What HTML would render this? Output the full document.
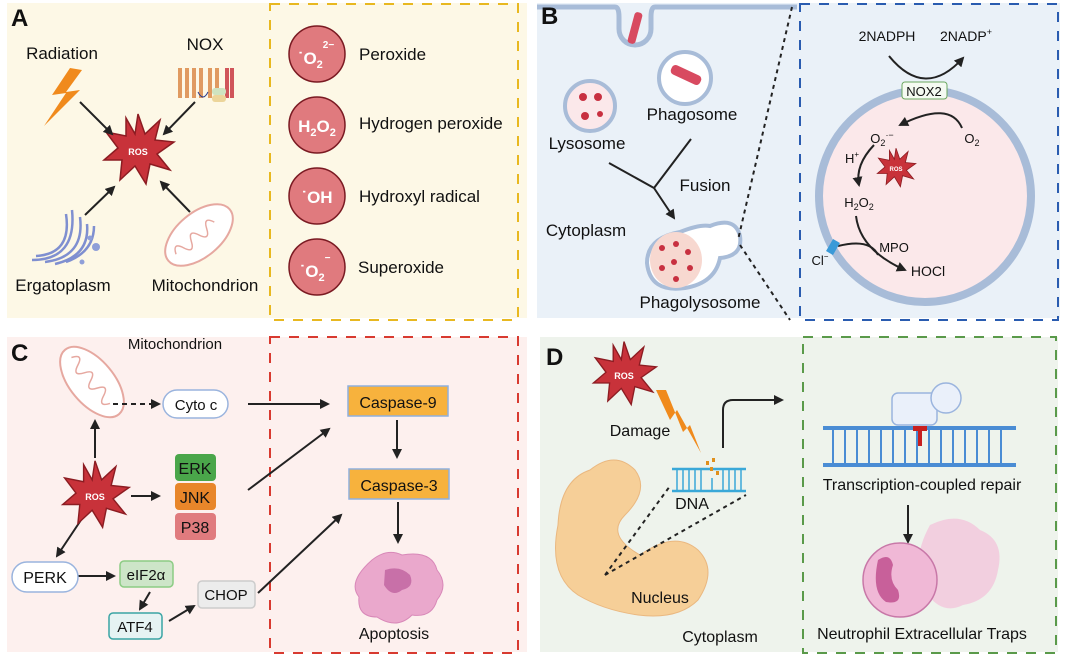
<!DOCTYPE html>
<html><head><meta charset="utf-8"><style>
body{margin:0;background:#fff}
svg{display:block;font-family:"Liberation Sans",sans-serif}
</style></head><body>
<svg width="1065" height="656" viewBox="0 0 1065 656" xmlns="http://www.w3.org/2000/svg">
<defs>
<marker id="ah" viewBox="0 0 10 10" refX="8" refY="5" markerWidth="5" markerHeight="5" orient="auto"><path d="M0,0L10,5L0,10z" fill="#222"/></marker>
<g id="star"><polygon points="0,-36 7,-16 22,-30 17,-10 36,-8 19,4 32,20 12,14 8,34 -3,16 -18,30 -16,10 -34,10 -20,-2 -32,-18 -12,-14 -12,-32 -3,-16" fill="#c8323a" stroke="#8c1c22" stroke-width="1.5"/></g>
</defs>
<rect x="7" y="3" width="520" height="315" fill="#fdf8e6"/>
<rect x="537" y="3" width="523" height="315" fill="#eaf1f8"/>
<rect x="7" y="337" width="520" height="315" fill="#fdf0ee"/>
<rect x="540" y="337" width="518" height="315" fill="#eef3ec"/>
<rect x="270" y="4" width="248" height="316" fill="none" stroke="#e8b820" stroke-width="2" stroke-dasharray="10,9"/>
<rect x="800" y="4" width="258" height="316" fill="none" stroke="#2a5cb0" stroke-width="2" stroke-dasharray="10,9"/>
<rect x="270" y="337" width="248" height="316" fill="none" stroke="#d83a30" stroke-width="2" stroke-dasharray="10,9"/>
<rect x="803" y="337" width="253" height="316" fill="none" stroke="#5a9a4a" stroke-width="2" stroke-dasharray="10,9"/>

<!-- PANEL A -->
<text x="11" y="26" font-size="24" font-weight="bold" fill="#111">A</text>
<text x="62" y="59" font-size="17" text-anchor="middle" fill="#111">Radiation</text>
<polygon points="70,68 52,95 66,93 44,126 80,90 66,92 82,70" fill="#f08a1c"/>
<text x="205" y="50" font-size="17" text-anchor="middle" fill="#111">NOX</text>
<g fill="none" stroke-width="4">
<path d="M180,98V68M187,98V68M194,98V68M201,98V68M210,98V68M217,98V68" stroke="#e09a60"/>
<path d="M227,98V68M232,98V68" stroke="#d0555a"/>
</g>
<rect x="212" y="88" width="14" height="7" rx="3" fill="#cfe3c0"/><rect x="212" y="95" width="14" height="7" rx="3" fill="#ecd59a"/>
<path d="M198,92q5,10 10,0" stroke="#2a3a8a" fill="none"/>
<use href="#star" transform="translate(138,150) scale(1)"/>
<text x="138" y="155" font-size="9" font-weight="bold" fill="#fff" text-anchor="middle">ROS</text>
<g stroke="#222" stroke-width="2" marker-end="url(#ah)">
<line x1="80" y1="102" x2="112" y2="134"/><line x1="195" y1="102" x2="164" y2="134"/>
<line x1="85" y1="215" x2="114" y2="187"/><line x1="190" y1="212" x2="161" y2="182"/>
</g>
<g fill="none" stroke="#7f8fd0" stroke-width="2.5">
<path d="M32,260q45,0 40,-50"/><path d="M36,256q36,-2 30,-42"/><path d="M45,262q40,-5 35,-45"/><path d="M55,264q35,-8 32,-40"/><path d="M66,262q28,-10 28,-36"/>
</g>
<circle cx="96" cy="247" r="4" fill="#8f9fd8"/><circle cx="90" cy="238" r="2.5" fill="#8f9fd8"/><circle cx="82" cy="262" r="2.5" fill="#8f9fd8"/>
<g transform="translate(199,235) rotate(-40)"><ellipse rx="40" ry="22" fill="#fff" stroke="#e6a8a0" stroke-width="2"/><path d="M-30,0q5,-12 10,0t10,0t10,0t10,0t10,0" fill="none" stroke="#e6a8a0" stroke-width="1.5"/></g>
<text x="63" y="291" font-size="17" text-anchor="middle" fill="#111">Ergatoplasm</text>
<text x="205" y="291" font-size="17" text-anchor="middle" fill="#111">Mitochondrion</text>
<g fill="#e07a7e" stroke="#7a1a22" stroke-width="1.5">
<circle cx="317" cy="54" r="28"/><circle cx="317" cy="125" r="28"/><circle cx="317" cy="196" r="28"/><circle cx="317" cy="267" r="28"/>
</g>
<g fill="#fff" font-weight="bold" text-anchor="middle">
<text x="316" y="64" font-size="17">˙O<tspan font-size="11" dy="4">2</tspan><tspan font-size="10" dy="-20">2−</tspan></text>
<text x="317" y="132" font-size="17">H<tspan font-size="11" dy="4">2</tspan><tspan dy="-4">O</tspan><tspan font-size="11" dy="4">2</tspan></text>
<text x="317" y="203" font-size="17">˙OH</text>
<text x="315" y="277" font-size="17">˙O<tspan font-size="11" dy="4">2</tspan><tspan font-size="10" dy="-20">−</tspan></text>
</g>
<g font-size="17" fill="#111">
<text x="359" y="60">Peroxide</text><text x="359" y="129">Hydrogen peroxide</text><text x="359" y="202">Hydroxyl radical</text><text x="358" y="273">Superoxide</text>
</g>

<!-- PANEL B -->
<path d="M537,7H615q4,0 4,10v12a16,16 0 0 0 32,0v-12q0,-10 4,-10H797" fill="none" stroke="#a8bcd8" stroke-width="5"/>
<text x="541" y="24" font-size="24" font-weight="bold" fill="#111">B</text>
<rect x="631" y="12" width="8" height="32" rx="3" fill="#d84a60" transform="rotate(15 635 28)"/>
<circle cx="685" cy="78" r="26" fill="#fff" stroke="#a8bcd8" stroke-width="4"/>
<rect x="670" y="70" width="32" height="10" rx="4" fill="#d84a60" transform="rotate(25 686 75)"/>
<circle cx="590" cy="106" r="25" fill="#fbe8ea" stroke="#a8bcd8" stroke-width="4"/>
<g fill="#c83040"><circle cx="583" cy="97" r="4"/><circle cx="598" cy="97" r="4"/><circle cx="585" cy="116" r="4"/><circle cx="600" cy="114" r="3"/></g>
<text x="692" y="120" font-size="17" text-anchor="middle" fill="#111">Phagosome</text>
<text x="587" y="149" font-size="17" text-anchor="middle" fill="#111">Lysosome</text>
<path d="M691,139L654,188M609,163L654,188" stroke="#222" stroke-width="2" fill="none"/>
<line x1="654" y1="188" x2="674" y2="218" stroke="#222" stroke-width="2" marker-end="url(#ah)"/>
<text x="705" y="191" font-size="17" text-anchor="middle" fill="#111">Fusion</text>
<text x="586" y="236" font-size="17" text-anchor="middle" fill="#111">Cytoplasm</text>
<path d="M680,232q20,-8 30,-6q25,-10 30,10q3,20 -20,22q-5,25 -35,30q-35,5 -38,-25q0,-25 33,-31z" fill="#fff" stroke="#a8bcd8" stroke-width="4"/>
<ellipse cx="676" cy="260" rx="26" ry="28" fill="#f7d8d0"/>
<g fill="#c83040"><circle cx="662" cy="248" r="3"/><circle cx="676" cy="244" r="3"/><circle cx="688" cy="252" r="3"/><circle cx="674" cy="262" r="3"/><circle cx="662" cy="268" r="3"/><circle cx="690" cy="268" r="3"/><circle cx="676" cy="279" r="3"/></g>
<text x="700" y="308" font-size="17" text-anchor="middle" fill="#111">Phagolysosome</text>
<path d="M792,7L738,240M740,245L790,320" stroke="#222" stroke-width="2" stroke-dasharray="4,4" fill="none"/>
<text x="887" y="41" font-size="14" text-anchor="middle" fill="#111">2NADPH</text>
<text x="966" y="41" font-size="14" text-anchor="middle" fill="#111">2NADP<tspan font-size="9" dy="-6">+</tspan></text>
<path d="M889,56Q925,100 963,58" fill="none" stroke="#222" stroke-width="2" marker-end="url(#ah)"/>
<circle cx="925" cy="196" r="106" fill="#fbe8ea" stroke="#a8bcd8" stroke-width="8"/>
<rect x="902" y="82" width="45" height="17" rx="3" fill="#f5faf2" stroke="#6aa860" stroke-width="1"/>
<text x="924" y="96" font-size="13" text-anchor="middle" fill="#111">NOX2</text>
<path d="M962,128Q950,100 900,125" fill="none" stroke="#222" stroke-width="2" marker-end="url(#ah)"/>
<text x="882" y="143" font-size="13" text-anchor="middle" fill="#111">O<tspan font-size="9" dy="3">2</tspan><tspan font-size="9" dy="-8">·−</tspan></text>
<text x="972" y="143" font-size="13" text-anchor="middle" fill="#111">O<tspan font-size="9" dy="3">2</tspan></text>
<text x="852" y="163" font-size="13" text-anchor="middle" fill="#111">H<tspan font-size="8" dy="-6">+</tspan></text>
<path d="M874,145Q855,165 859,185" fill="none" stroke="#222" stroke-width="2" marker-end="url(#ah)"/>
<use href="#star" transform="translate(896,168) scale(0.55)"/>
<text x="896" y="171" font-size="6" font-weight="bold" fill="#fff" text-anchor="middle">ROS</text>
<text x="859" y="207" font-size="13" text-anchor="middle" fill="#111">H<tspan font-size="9" dy="3">2</tspan><tspan dy="-3">O</tspan><tspan font-size="9" dy="3">2</tspan></text>
<path d="M856,216Q860,250 905,270" fill="none" stroke="#222" stroke-width="2" marker-end="url(#ah)"/>
<path d="M838,246Q870,238 878,255" fill="none" stroke="#222" stroke-width="2"/>
<rect x="829" y="240" width="8" height="14" fill="#3a9ad8" transform="rotate(30 833 247)"/>
<text x="894" y="252" font-size="13" text-anchor="middle" fill="#111">MPO</text>
<text x="820" y="265" font-size="13" text-anchor="middle" fill="#111">Cl<tspan font-size="8" dy="-6">−</tspan></text>
<text x="928" y="276" font-size="14" text-anchor="middle" fill="#111">HOCl</text>

<!-- PANEL C -->
<text x="11" y="361" font-size="24" font-weight="bold" fill="#111">C</text>
<text x="175" y="349" font-size="15" text-anchor="middle" fill="#111">Mitochondrion</text>
<g transform="translate(92,382) rotate(50)"><ellipse rx="42" ry="22" fill="#fff" stroke="#e6a8a0" stroke-width="2"/><path d="M-32,0q5,-12 10,0t10,0t10,0t10,0t10,0t10,0" fill="none" stroke="#e6a8a0" stroke-width="1.5"/></g>
<line x1="113" y1="404" x2="159" y2="404" stroke="#222" stroke-width="2" stroke-dasharray="5,4" marker-end="url(#ah)"/>
<rect x="163" y="390" width="65" height="28" rx="14" fill="#fff" stroke="#9ab4de" stroke-width="1.5"/>
<text x="196" y="410" font-size="15" text-anchor="middle" fill="#111">Cyto c</text>
<g stroke="#222" stroke-width="2" fill="none" marker-end="url(#ah)">
<line x1="248" y1="404" x2="328" y2="404"/>
<line x1="397" y1="420" x2="397" y2="457"/>
<line x1="398" y1="502" x2="398" y2="542"/>
<line x1="95" y1="458" x2="95" y2="421"/>
<line x1="131" y1="496" x2="159" y2="496"/>
<line x1="81" y1="520" x2="57" y2="556"/>
<line x1="248" y1="490" x2="329" y2="429"/>
<line x1="78" y1="576" x2="114" y2="576"/>
<line x1="150" y1="592" x2="140" y2="609"/>
<line x1="169" y1="621" x2="194" y2="606"/>
<line x1="258" y1="593" x2="341" y2="515"/>
</g>
<rect x="348" y="386" width="100" height="30" fill="#f7b23d" stroke="#8fb0de" stroke-width="1.5"/>
<text x="398" y="408" font-size="16" text-anchor="middle" fill="#111">Caspase-9</text>
<rect x="349" y="469" width="100" height="30" fill="#f7b23d" stroke="#8fb0de" stroke-width="1.5"/>
<text x="399" y="491" font-size="16" text-anchor="middle" fill="#111">Caspase-3</text>
<path d="M372,560q15,-12 30,-5q30,-5 35,15q12,15 0,30q-5,18 -25,15q-15,15 -35,2q-20,0 -18,-20q-12,-15 13,-37z" fill="#eaa8cc" stroke="#d888b8"/>
<path d="M385,570q15,-5 25,5q5,12 -8,15q-10,8 -18,-5z" fill="#c870a8"/>
<text x="394" y="639" font-size="16" text-anchor="middle" fill="#111">Apoptosis</text>
<rect x="175" y="454" width="41" height="27" rx="4" fill="#4aa64a"/>
<rect x="175" y="483" width="41" height="27" rx="4" fill="#e8862a"/>
<rect x="175" y="513" width="41" height="27" rx="4" fill="#e07b7e"/>
<g font-size="16" text-anchor="middle" fill="#111"><text x="195" y="474">ERK</text><text x="195" y="503">JNK</text><text x="195" y="533">P38</text></g>
<use href="#star" transform="translate(95,495) scale(0.95)"/>
<text x="95" y="500" font-size="9" font-weight="bold" fill="#fff" text-anchor="middle">ROS</text>
<rect x="12" y="562" width="66" height="30" rx="15" fill="#fff" stroke="#9ab4de" stroke-width="1.5"/>
<text x="45" y="583" font-size="16" text-anchor="middle" fill="#111">PERK</text>
<rect x="120" y="561" width="53" height="26" rx="4" fill="#cde5c8" stroke="#8ccc84" stroke-width="1.5"/>
<text x="146" y="580" font-size="15" text-anchor="middle" fill="#111">eIF2α</text>
<rect x="109" y="613" width="53" height="26" rx="4" fill="#e6f3f3" stroke="#3aa4a4" stroke-width="1.5"/>
<text x="135" y="632" font-size="15" text-anchor="middle" fill="#111">ATF4</text>
<rect x="198" y="581" width="57" height="27" rx="4" fill="#ececec" stroke="#ccc" stroke-width="1.5"/>
<text x="226" y="600" font-size="15" text-anchor="middle" fill="#111">CHOP</text>

<!-- PANEL D -->
<text x="546" y="365" font-size="24" font-weight="bold" fill="#111">D</text>
<use href="#star" transform="translate(624,374) scale(0.9)"/>
<text x="624" y="379" font-size="9" font-weight="bold" fill="#fff" text-anchor="middle">ROS</text>
<polygon points="656,390 670,420 677,410 701,453 690,425 683,432 666,390" fill="#f08a1c"/>
<text x="640" y="436" font-size="16" text-anchor="middle" fill="#111">Damage</text>
<path d="M590,470q25,-20 45,0q15,20 -10,45q-20,20 15,40q35,-25 58,-5q20,20 0,50q-20,20 -60,15q-35,-5 -60,-20q-30,-20 -20,-70q2,-45 32,-55z" fill="#f6cf98" stroke="#eab880"/>
<text x="660" y="603" font-size="16" text-anchor="middle" fill="#111">Nucleus</text>
<text x="720" y="642" font-size="16" text-anchor="middle" fill="#111">Cytoplasm</text>
<path d="M672,469H746M672,491H746" stroke="#3aa8d8" stroke-width="2.5"/>
<g stroke="#3aa8d8" stroke-width="1.5"><path d="M677,469V491M683,469V491M689,469V491M695,469V491M701,469V491M712,478V491M723,469V491M729,469V491M735,469V491M741,469V491"/></g>
<g fill="#e0901c"><rect x="706" y="461" width="3" height="4"/><rect x="712" y="458" width="3" height="4"/><rect x="710" y="467" width="3" height="4"/><rect x="716" y="471" width="3" height="4"/></g>
<text x="692" y="509" font-size="16" text-anchor="middle" fill="#111">DNA</text>
<path d="M605,575L670,486M605,575L746,495" stroke="#222" stroke-width="2" stroke-dasharray="4,4" fill="none"/>
<path d="M723,448V410q0,-10 10,-10H782" fill="none" stroke="#222" stroke-width="2" marker-end="url(#ah)"/>
<rect x="892" y="393" width="45" height="32" rx="6" fill="#eaf0fa" stroke="#9ab4de" stroke-width="1.5"/>
<circle cx="946" cy="398" r="15" fill="#eaf0fa" stroke="#9ab4de" stroke-width="1.5"/>
<path d="M823,428H1016M823,465H1016" stroke="#4a8cd4" stroke-width="4"/>
<g stroke="#4a8cd4" stroke-width="2"><path d="M833,428V465M845,428V465M857,428V465M869,428V465M881,428V465M893,428V465M905,428V465M917,428V465M929,428V465M941,428V465M953,428V465M965,428V465M977,428V465M989,428V465M1001,428V465"/></g>
<rect x="913" y="426" width="14" height="5" fill="#c82020"/><rect x="918" y="426" width="4" height="20" fill="#c82020"/>
<text x="922" y="490" font-size="16" text-anchor="middle" fill="#111">Transcription-coupled repair</text>
<line x1="908" y1="505" x2="908" y2="542" stroke="#222" stroke-width="2" marker-end="url(#ah)"/>
<path d="M930,525q30,-15 50,5q25,10 18,40q-5,30 -35,35q-20,10 -35,-10q-20,-30 2,-70z" fill="#f2c6dc" opacity="0.8"/>
<circle cx="900" cy="580" r="37" fill="#f0b8d6" stroke="#c878a8" stroke-width="1.5"/>
<path d="M878,560q12,-8 15,5q-5,15 5,25q5,15 -12,12q-15,-10 -8,-42z" fill="#c8609a"/>
<text x="922" y="639" font-size="16" text-anchor="middle" fill="#111">Neutrophil Extracellular Traps</text>
</svg>
</body></html>
